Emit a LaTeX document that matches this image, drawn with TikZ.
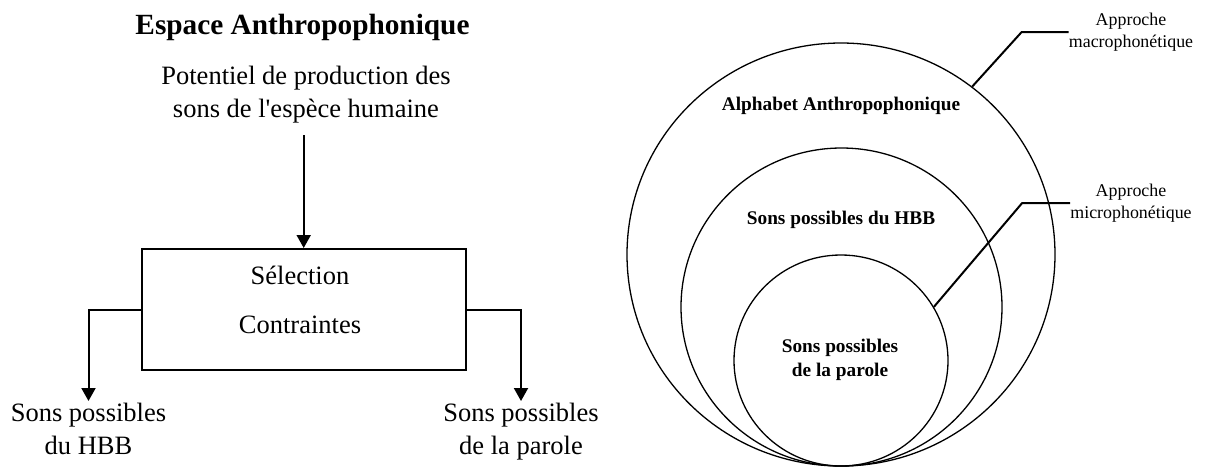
\documentclass[tikz,border=0pt]{standalone}
\usepackage{fontspec}
\setmainfont{Liberation Serif}[Ligatures=TeXOff]
\usetikzlibrary{arrows.meta,shapes.geometric}
\newcommand{\titletxt}{\fontsize{29.3}{35}\selectfont\bfseries}
\newcommand{\lbltxt}{\fontsize{26.5}{33}\selectfont}
\newcommand{\ringtxt}{\fontsize{19.3}{24}\selectfont\bfseries}
\newcommand{\notetxt}{\fontsize{17.9}{22}\selectfont}

\begin{document}
\begin{tikzpicture}[x=1pt,y=-1pt,
  lbl/.style={inner sep=0pt, align=center, font=\lbltxt},
  ring/.style={draw, ellipse, inner sep=0pt, line width=1.3pt},
  ringlbl/.style={inner sep=0pt, align=center, font=\ringtxt},
  note/.style={inner sep=0pt, align=center, font=\notetxt},
  flow/.style={line width=2pt, -{Triangle[width=14pt,length=13pt]}},
  lead/.style={line width=2pt}]
\useasboundingbox (0,0) rectangle (1207,467);
\node[font=\titletxt, inner sep=0pt] (title) at (302.5,27) {Espace Anthropophonique};
\node[lbl] (pot) at (306,95) {Potentiel de production des\\sons de l'espèce humaine};
\node[draw, line width=2pt, minimum width=324pt, minimum height=121pt] (box) at (303.7,309.5) {};
\node[lbl] (sel) at (300,275) {Sélection};
\node[lbl] (contr) at (300,325) {Contraintes};
\node[lbl, anchor=north] (hbb) at (88.5,403) {Sons possibles\\du HBB};
\node[lbl, anchor=north] (parole) at (521,403) {Sons possibles\\de la parole};
\coordinate (src) at (303.7,135);
\draw[flow] (src) -- (box.north);
\draw[flow, shorten >=2pt] (box.west) -| (hbb.north);
\draw[flow, shorten >=2pt] (box.east) -| (parole.north);
\node[ring, minimum width=428pt, minimum height=423pt] (alpha) at (841,254.5) {};
\node[ring, minimum width=321pt, minimum height=318pt] (hbbset) at (841.5,307) {};
\node[ring, minimum width=214pt, minimum height=211pt] (paroleset) at (841,360.5) {};
\node[ringlbl] (alphalbl) at (841,106) {Alphabet Anthropophonique};
\node[ringlbl] (hbblbl) at (841,220) {Sons possibles du HBB};
\node[ringlbl] (parolelbl) at (840,360) {Sons possibles\\de la parole};
\node[note] (macro) at (1131,32) {Approche\\macrophonétique};
\node[note] (micro) at (1131,203) {Approche\\microphonétique};
\draw[lead] (macro.west) -- ++(-47,0) -- (alpha.52);
\draw[lead] (micro.west) -- ++(-48,0) -- (paroleset.30);
\end{tikzpicture}
\end{document}
